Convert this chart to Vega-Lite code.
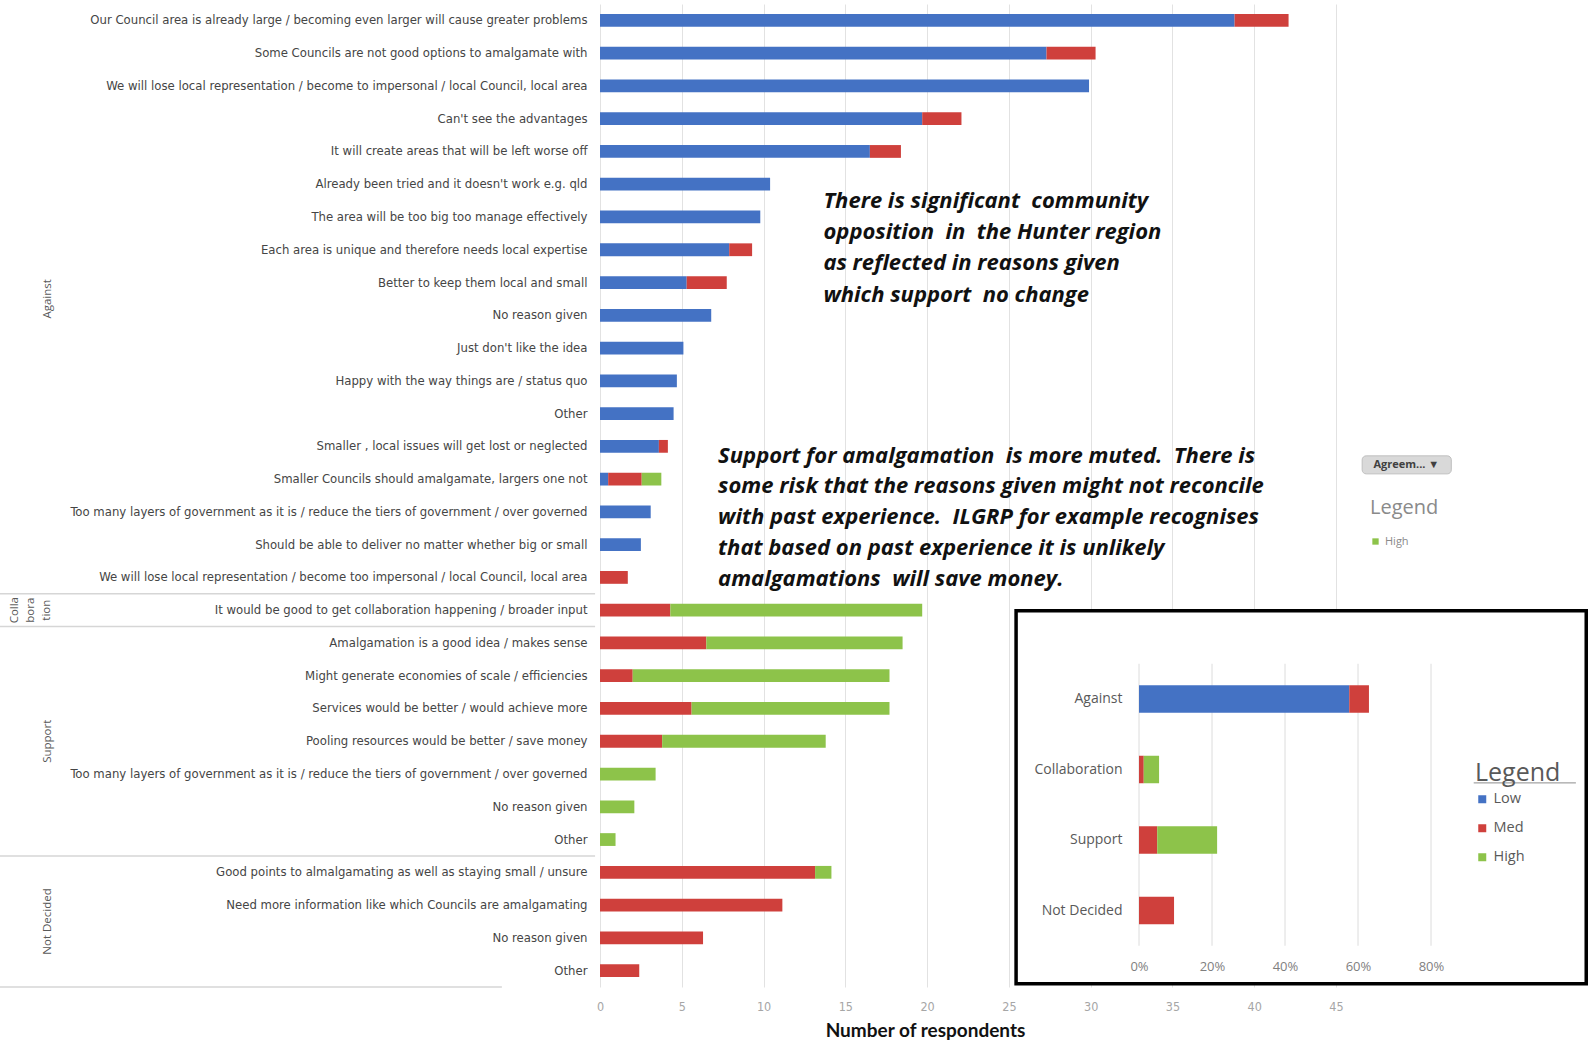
{
  "$schema": "https://vega.github.io/schema/vega-lite/v6.json",
  "width": 736,
  "height": 983,
  "autosize": "none",
  "padding": {"left": 600, "top": 4, "right": 252, "bottom": 57},
  "background": "white",
  "config": {"view": {"stroke": null}},
  "datasets": {
    "reasons": [
      {"g": "Against", "r": "Our Council area is already large / becoming even larger will cause greater problems", "lv": "Low", "k": 1, "n": 38.8},
      {"g": "Against", "r": "Our Council area is already large / becoming even larger will cause greater problems", "lv": "Med", "k": 2, "n": 3.3},
      {"g": "Against", "r": "Some Councils are not good options to amalgamate with", "lv": "Low", "k": 1, "n": 27.3},
      {"g": "Against", "r": "Some Councils are not good options to amalgamate with", "lv": "Med", "k": 2, "n": 3.0},
      {"g": "Against", "r": "We will lose local representation / become to impersonal / local Council, local area", "lv": "Low", "k": 1, "n": 29.9},
      {"g": "Against", "r": "Can't see the advantages", "lv": "Low", "k": 1, "n": 19.7},
      {"g": "Against", "r": "Can't see the advantages", "lv": "Med", "k": 2, "n": 2.4},
      {"g": "Against", "r": "It will create areas that will be left worse off", "lv": "Low", "k": 1, "n": 16.5},
      {"g": "Against", "r": "It will create areas that will be left worse off", "lv": "Med", "k": 2, "n": 1.9},
      {"g": "Against", "r": "Already been tried and it doesn't work e.g. qld", "lv": "Low", "k": 1, "n": 10.4},
      {"g": "Against", "r": "The area will be too big too manage effectively", "lv": "Low", "k": 1, "n": 9.8},
      {"g": "Against", "r": "Each area is unique and therefore needs local expertise", "lv": "Low", "k": 1, "n": 7.9},
      {"g": "Against", "r": "Each area is unique and therefore needs local expertise", "lv": "Med", "k": 2, "n": 1.4},
      {"g": "Against", "r": "Better to keep them local and small", "lv": "Low", "k": 1, "n": 5.3},
      {"g": "Against", "r": "Better to keep them local and small", "lv": "Med", "k": 2, "n": 2.45},
      {"g": "Against", "r": "No reason given", "lv": "Low", "k": 1, "n": 6.8},
      {"g": "Against", "r": "Just don't like the idea", "lv": "Low", "k": 1, "n": 5.1},
      {"g": "Against", "r": "Happy with the way things are / status quo", "lv": "Low", "k": 1, "n": 4.7},
      {"g": "Against", "r": "Other", "lv": "Low", "k": 1, "n": 4.5},
      {"g": "Against", "r": "Smaller , local issues will get lost or neglected", "lv": "Low", "k": 1, "n": 3.6},
      {"g": "Against", "r": "Smaller , local issues will get lost or neglected", "lv": "Med", "k": 2, "n": 0.55},
      {"g": "Against", "r": "Smaller Councils should amalgamate, largers one not", "lv": "Low", "k": 1, "n": 0.5},
      {"g": "Against", "r": "Smaller Councils should amalgamate, largers one not", "lv": "Med", "k": 2, "n": 2.05},
      {"g": "Against", "r": "Smaller Councils should amalgamate, largers one not", "lv": "High", "k": 3, "n": 1.2},
      {"g": "Against", "r": "Too many layers of government as it is / reduce the tiers of government / over governed", "lv": "Low", "k": 1, "n": 3.1},
      {"g": "Against", "r": "Should be able to deliver no matter whether big or small", "lv": "Low", "k": 1, "n": 2.5},
      {"g": "Against", "r": "We will lose local representation / become too impersonal / local Council, local area", "lv": "Med", "k": 2, "n": 1.7},
      {"g": "Collaboration", "r": "It would be good to get collaboration happening / broader input", "lv": "Med", "k": 2, "n": 4.3},
      {"g": "Collaboration", "r": "It would be good to get collaboration happening / broader input", "lv": "High", "k": 3, "n": 15.4},
      {"g": "Support", "r": "Amalgamation is a good idea / makes sense", "lv": "Med", "k": 2, "n": 6.5},
      {"g": "Support", "r": "Amalgamation is a good idea / makes sense", "lv": "High", "k": 3, "n": 12.0},
      {"g": "Support", "r": "Might generate economies of scale / efficiencies", "lv": "Med", "k": 2, "n": 2.0},
      {"g": "Support", "r": "Might generate economies of scale / efficiencies", "lv": "High", "k": 3, "n": 15.7},
      {"g": "Support", "r": "Services would be better / would achieve more", "lv": "Med", "k": 2, "n": 5.6},
      {"g": "Support", "r": "Services would be better / would achieve more", "lv": "High", "k": 3, "n": 12.1},
      {"g": "Support", "r": "Pooling resources would be better / save money", "lv": "Med", "k": 2, "n": 3.8},
      {"g": "Support", "r": "Pooling resources would be better / save money", "lv": "High", "k": 3, "n": 10.0},
      {"g": "Support", "r": "Too many layers of government as it is / reduce the tiers of government / over governed\u200b", "lv": "High", "k": 3, "n": 3.4},
      {"g": "Support", "r": "No reason given\u200b", "lv": "High", "k": 3, "n": 2.1},
      {"g": "Support", "r": "Other\u200b", "lv": "High", "k": 3, "n": 0.95},
      {"g": "Not Decided", "r": "Good points to almalgamating as well as staying small / unsure", "lv": "Med", "k": 2, "n": 13.15},
      {"g": "Not Decided", "r": "Good points to almalgamating as well as staying small / unsure", "lv": "High", "k": 3, "n": 1.0},
      {"g": "Not Decided", "r": "Need more information like which Councils are amalgamating", "lv": "Med", "k": 2, "n": 11.15},
      {"g": "Not Decided", "r": "No reason given\u200b\u200b", "lv": "Med", "k": 2, "n": 6.3},
      {"g": "Not Decided", "r": "Other\u200b\u200b", "lv": "Med", "k": 2, "n": 2.4}
    ],
    "summary": [
      {"c": "Against", "lv": "Low", "k": 1, "p": 57.6},
      {"c": "Against", "lv": "Med", "k": 2, "p": 5.4},
      {"c": "Collaboration", "lv": "Med", "k": 2, "p": 1.3},
      {"c": "Collaboration", "lv": "High", "k": 3, "p": 4.2},
      {"c": "Support", "lv": "Med", "k": 2, "p": 5.0},
      {"c": "Support", "lv": "High", "k": 3, "p": 16.4},
      {"c": "Not Decided", "lv": "Med", "k": 2, "p": 9.6}
    ]
  },
  "layer": [
    {
      "layer": [
        {
          "data": {"name": "reasons"},
          "mark": {"type": "bar", "height": {"band": 0.39}},
          "encoding": {
            "y": {
              "field": "r", "type": "nominal",
              "scale": {
                "domain": [
                  "Our Council area is already large / becoming even larger will cause greater problems",
                  "Some Councils are not good options to amalgamate with",
                  "We will lose local representation / become to impersonal / local Council, local area",
                  "Can't see the advantages",
                  "It will create areas that will be left worse off",
                  "Already been tried and it doesn't work e.g. qld",
                  "The area will be too big too manage effectively",
                  "Each area is unique and therefore needs local expertise",
                  "Better to keep them local and small",
                  "No reason given",
                  "Just don't like the idea",
                  "Happy with the way things are / status quo",
                  "Other",
                  "Smaller , local issues will get lost or neglected",
                  "Smaller Councils should amalgamate, largers one not",
                  "Too many layers of government as it is / reduce the tiers of government / over governed",
                  "Should be able to deliver no matter whether big or small",
                  "We will lose local representation / become too impersonal / local Council, local area",
                  "It would be good to get collaboration happening / broader input",
                  "Amalgamation is a good idea / makes sense",
                  "Might generate economies of scale / efficiencies",
                  "Services would be better / would achieve more",
                  "Pooling resources would be better / save money",
                  "Too many layers of government as it is / reduce the tiers of government / over governed\u200b",
                  "No reason given\u200b",
                  "Other\u200b",
                  "Good points to almalgamating as well as staying small / unsure",
                  "Need more information like which Councils are amalgamating",
                  "No reason given\u200b\u200b",
                  "Other\u200b\u200b"
                ],
                "paddingInner": 0, "paddingOuter": 0
              },
              "axis": {
                "title": null, "domain": false, "ticks": false, "grid": false,
                "labelPadding": 13, "labelLimit": 620,
                "labelFont": "Liberation Sans Narrow, DejaVu Sans Condensed, sans-serif",
                "labelFontSize": 13, "labelColor": "#454545"
              }
            },
            "x": {
              "field": "n", "type": "quantitative", "stack": "zero",
              "scale": {"domain": [0, 45], "nice": false},
              "axis": {
                "title": "Number of respondents",
                "values": [0, 5, 10, 15, 20, 25, 30, 35, 40, 45],
                "grid": true, "gridColor": "#e2e2e2", "domain": false, "ticks": false, "labelFlush": false,
                "labelColor": "#a6a6a6", "labelFont": "Liberation Sans Narrow, DejaVu Sans Condensed, sans-serif",
                "labelFontSize": 12.5, "labelPadding": 13,
                "titleFont": "Lato", "titleFontSize": 19, "titleFontWeight": "bold", "titleColor": "#111111",
                "titleX": 325, "titleY": 43, "titleBaseline": "middle", "titleAlign": "center"
              }
            },
            "color": {
              "field": "lv", "type": "nominal",
              "scale": {"domain": ["Low", "Med", "High"], "range": ["#4472C4", "#CF403C", "#8DC34A"]},
              "legend": {
                "values": ["High"], "title": "Legend", "orient": "none", "legendX": 770, "legendY": 494,
                "padding": 0, "titleFont": "Open Sans", "titleFontSize": 20, "titleFontWeight": "normal",
                "titleColor": "#8a8a8a", "titlePadding": 18, "labelFont": "Open Sans", "labelFontSize": 11,
                "labelColor": "#8a8a8a", "symbolType": "square", "symbolSize": 40
              }
            },
            "order": {"field": "k", "type": "quantitative"}
          }
        },
        {
          "data": {"values": [
            {"r": "It would be good to get collaboration happening / broader input"},
            {"r": "Amalgamation is a good idea / makes sense"},
            {"r": "Good points to almalgamating as well as staying small / unsure"}
          ]},
          "mark": {"type": "rule", "color": "#d6d6d6", "strokeWidth": 1.5},
          "encoding": {
            "y": {"field": "r", "type": "nominal", "bandPosition": 0},
            "x": {"datum": -36.7, "type": "quantitative"},
            "x2": {"datum": -0.3}
          }
        },
        {
          "data": {"values": [{}]},
          "mark": {"type": "rule", "color": "#d6d6d6", "strokeWidth": 1.5},
          "encoding": {
            "y": {"datum": "Other\u200b\u200b", "type": "nominal", "bandPosition": 1},
            "x": {"datum": -36.7, "type": "quantitative"},
            "x2": {"datum": -6}
          }
        },
        {
          "data": {"values": [
            {"t": "Against", "r": "Better to keep them local and small"},
            {"t": "Not Decided", "r": "Need more information like which Councils are amalgamating"}
          ]},
          "mark": {"type": "text", "angle": 270, "baseline": "bottom", "align": "center", "font": "Open Sans", "fontSize": 11.5, "color": "#595959"},
          "encoding": {
            "y": {"field": "r", "type": "nominal", "bandPosition": 1},
            "x": {"datum": -33.46, "type": "quantitative"},
            "text": {"field": "t"}
          }
        },
        {
          "data": {"values": [
            {"t": "Support", "r": "Pooling resources would be better / save money"}
          ]},
          "mark": {"type": "text", "angle": 270, "baseline": "bottom", "align": "center", "font": "Open Sans", "fontSize": 11.5, "color": "#595959"},
          "encoding": {
            "y": {"field": "r", "type": "nominal", "bandPosition": 0.5},
            "x": {"datum": -33.46, "type": "quantitative"},
            "text": {"field": "t"}
          }
        },
        {
          "data": {"values": [
            {"t": "Colla\nbora\ntion", "r": "It would be good to get collaboration happening / broader input"}
          ]},
          "mark": {"type": "text", "angle": 270, "baseline": "bottom", "align": "center", "font": "Open Sans", "fontSize": 11.5, "color": "#595959", "lineBreak": "\n", "lineHeight": 16},
          "encoding": {
            "y": {"field": "r", "type": "nominal", "bandPosition": 0.5},
            "x": {"datum": -35.44, "type": "quantitative"},
            "text": {"field": "t"}
          }
        },
        {
          "data": {"values": [{}]},
          "mark": {"type": "text", "align": "left", "baseline": "middle", "font": "Open Sans", "fontSize": 22, "fontStyle": "italic", "fontWeight": "bold", "lineHeight": 31.4, "color": "#111111"},
          "encoding": {
            "x": {"datum": 13.66, "type": "quantitative"},
            "y": {"datum": "The area will be too big too manage effectively", "type": "nominal", "bandPosition": 0},
            "text": {"value": ["There is significant\u00a0 community", "opposition\u00a0 in\u00a0 the Hunter region", "as reflected in reasons given", "which support\u00a0 no change"]}
          }
        },
        {
          "data": {"values": [{}]},
          "mark": {"type": "text", "align": "left", "baseline": "middle", "font": "Open Sans", "fontSize": 22, "fontStyle": "italic", "fontWeight": "bold", "lineHeight": 30.9, "color": "#111111"},
          "encoding": {
            "x": {"datum": 7.22, "type": "quantitative"},
            "y": {"datum": "Smaller , local issues will get lost or neglected", "type": "nominal", "bandPosition": 0.78},
            "text": {"value": ["Support for amalgamation\u00a0 is more muted.\u00a0 There is", "some risk that the reasons given might not reconcile", "with past experience.\u00a0 ILGRP for example recognises", "that based on past experience it is unlikely", "amalgamations\u00a0 will save money."]}
          }
        },
        {
          "data": {"values": [{}]},
          "mark": {"type": "rect", "fill": "#d9d9d9", "stroke": "#bfbfbf", "cornerRadius": 4},
          "encoding": {
            "x": {"datum": 46.6, "type": "quantitative"},
            "x2": {"datum": 52.05},
            "y": {"datum": "Smaller , local issues will get lost or neglected", "type": "nominal", "bandPosition": 0.79},
            "y2": {"datum": "Smaller Councils should amalgamate, largers one not", "bandPosition": 0.34}
          }
        },
        {
          "data": {"values": [{}]},
          "mark": {"type": "text", "align": "center", "baseline": "middle", "font": "Open Sans", "fontSize": 11, "fontWeight": "bold", "color": "#404040"},
          "encoding": {
            "x": {"datum": 49.3, "type": "quantitative"},
            "y": {"datum": "Smaller Councils should amalgamate, largers one not", "type": "nominal", "bandPosition": 0.07},
            "text": {"value": "Agreem... ▼"}
          }
        },
        {
          "data": {"values": [{}]},
          "mark": {"type": "rect", "fill": "white", "stroke": "black", "strokeWidth": 3.5},
          "encoding": {
            "x": {"datum": 25.44, "type": "quantitative"},
            "x2": {"datum": 60.3},
            "y": {"datum": "It would be good to get collaboration happening / broader input", "type": "nominal", "bandPosition": 0.52},
            "y2": {"datum": "Other\u200b\u200b", "bandPosition": 0.9}
          }
        }
      ]
    },
    {
      "layer": [
        {
          "data": {"values": [{"t": 0}, {"t": 20}, {"t": 40}, {"t": 60}, {"t": 80}]},
          "mark": {"type": "rule", "color": "#dcdcdc", "strokeWidth": 1},
          "encoding": {
            "x": {"field": "t", "type": "quantitative"},
            "y": {"datum": "Against", "type": "nominal", "bandPosition": 0},
            "y2": {"datum": "Not Decided", "bandPosition": 1}
          }
        },
        {
          "data": {"name": "summary"},
          "mark": {"type": "bar", "height": {"band": 0.39}},
          "encoding": {
            "y": {
              "field": "c", "type": "nominal",
              "scale": {"domain": ["Against", "Collaboration", "Support", "Not Decided"], "range": [659.75, 941.75], "paddingInner": 0, "paddingOuter": 0},
              "axis": {
                "orient": "left", "offset": -539, "title": null, "domain": false, "ticks": false, "grid": false,
                "labelPadding": 17, "labelFont": "Open Sans", "labelFontSize": 14, "labelColor": "#595959",
                "labelLimit": 300, "zindex": 1
              }
            },
            "x": {
              "field": "p", "type": "quantitative", "stack": "zero",
              "scale": {"domain": [0, 80], "range": [539, 831], "nice": false},
              "axis": {
                "orient": "bottom", "offset": -32, "title": null, "values": [0, 20, 40, 60, 80],
                "labelExpr": "datum.value + '%'", "grid": false, "domain": false, "ticks": false, "labelFlush": false,
                "labelPadding": 5, "labelFont": "Open Sans", "labelFontSize": 13, "labelColor": "#7f7f7f", "zindex": 1
              }
            },
            "color": {
              "field": "lv", "type": "nominal",
              "scale": {"domain": ["Low", "Med", "High"], "range": ["#4472C4", "#CF403C", "#8DC34A"]},
              "legend": {
                "title": "Legend", "orient": "none", "legendX": 875, "legendY": 757, "padding": 0,
                "titleFont": "Open Sans", "titleFontSize": 25, "titleFontWeight": "normal", "titleColor": "#595959",
                "titlePadding": 6, "labelFont": "Open Sans", "labelFontSize": 14.5, "labelColor": "#595959",
                "symbolType": "square", "symbolSize": 64, "rowPadding": 14
              }
            },
            "order": {"field": "k", "type": "quantitative"}
          }
        },
        {
          "data": {"values": [{}]},
          "mark": {"type": "rule", "color": "#8c8c8c", "strokeWidth": 1},
          "encoding": {
            "x": {"datum": 91.7, "type": "quantitative"},
            "x2": {"datum": 119.7},
            "y": {"datum": "Collaboration", "type": "nominal", "bandPosition": 0.69}
          }
        }
      ]
    }
  ],
  "resolve": {
    "scale": {"x": "independent", "y": "independent", "color": "independent"},
    "axis": {"x": "independent", "y": "independent"},
    "legend": {"color": "independent"}
  }
}
